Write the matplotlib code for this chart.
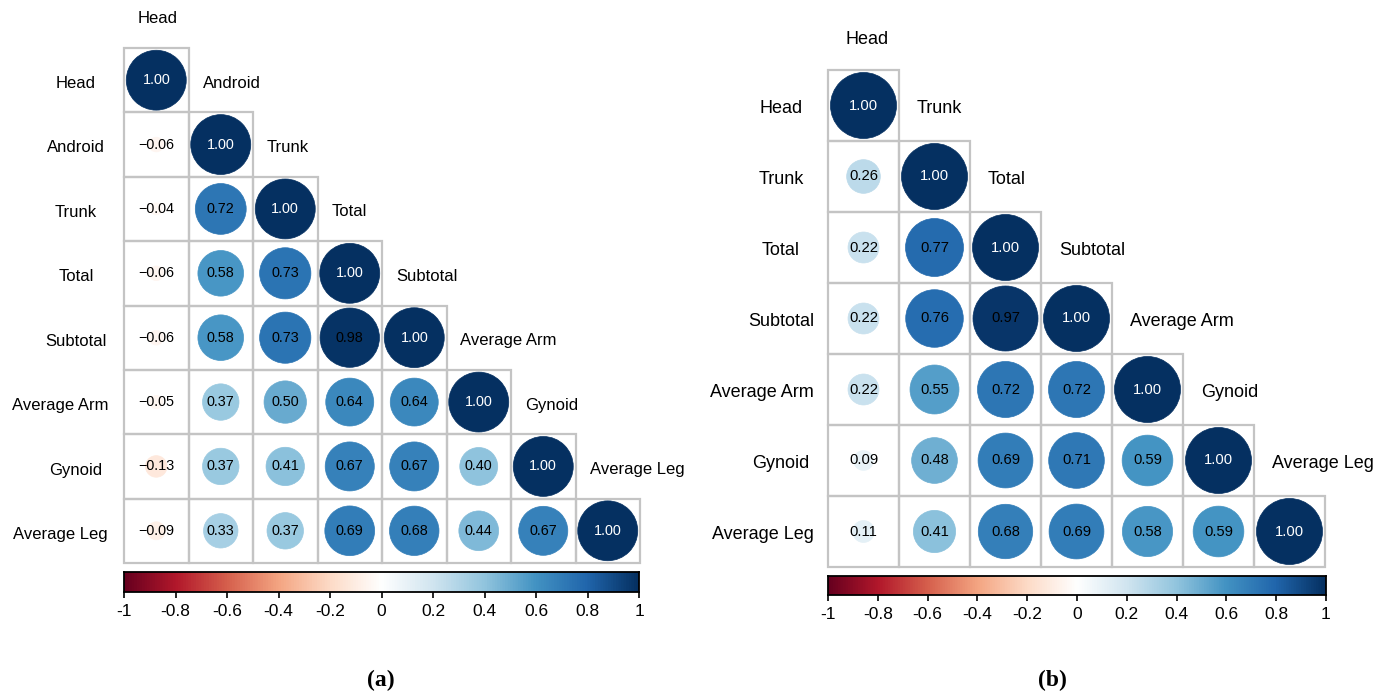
import numpy as np
import matplotlib
matplotlib.use("Agg")
import matplotlib.pyplot as plt
from matplotlib.colors import LinearSegmentedColormap
from matplotlib.patches import Circle, Rectangle

# ---- data -------------------------------------------------------------
labels_a = ["Head", "Android", "Trunk", "Total", "Subtotal",
            "Average Arm", "Gynoid", "Average Leg"]
lower_a = [
    [],
    [-0.06],
    [-0.04, 0.72],
    [-0.06, 0.58, 0.73],
    [-0.06, 0.58, 0.73, 0.98],
    [-0.05, 0.37, 0.50, 0.64, 0.64],
    [-0.13, 0.37, 0.41, 0.67, 0.67, 0.40],
    [-0.09, 0.33, 0.37, 0.69, 0.68, 0.44, 0.67],
]

labels_b = ["Head", "Trunk", "Total", "Subtotal",
            "Average Arm", "Gynoid", "Average Leg"]
lower_b = [
    [],
    [0.26],
    [0.22, 0.77],
    [0.22, 0.76, 0.97],
    [0.22, 0.55, 0.72, 0.72],
    [0.09, 0.48, 0.69, 0.71, 0.59],
    [0.11, 0.41, 0.68, 0.69, 0.58, 0.59],
]

cbar_ticks = [-1, -0.8, -0.6, -0.4, -0.2, 0, 0.2, 0.4, 0.6, 0.8, 1]
cbar_ticklabels = ["-1", "-0.8", "-0.6", "-0.4", "-0.2", "0",
                   "0.2", "0.4", "0.6", "0.8", "1"]

# ---- style ------------------------------------------------------------
W, H = 1385, 695
DPI = 100
plt.rcParams["font.family"] = ["Liberation Sans", "DejaVu Sans"]

rdbu = LinearSegmentedColormap.from_list(
    "corr_rdbu",
    ["#67001F", "#B2182B", "#D6604D", "#F4A582", "#FDDBC7", "#FFFFFF",
     "#D1E5F0", "#92C5DE", "#4393C3", "#2166AC", "#053061"], N=200)
GRID = "#C4C4C4"

fig = plt.figure(figsize=(W / DPI, H / DPI), dpi=DPI)


def px_axes(x0, y0, x1, y1):
    return fig.add_axes([x0 / W, 1 - y1 / H, (x1 - x0) / W, (y1 - y0) / H])


def full_matrix(lower):
    n = len(lower)
    m = np.eye(n)
    for i, row in enumerate(lower):
        for j, v in enumerate(row):
            m[i, j] = v
    return m


def corr_panel(box, labels, lower, lab_size, num_size, row_cx, row_max_right,
               diag_off, head_y, lab_dy=3):
    x0, y0, x1, y1 = box
    n = len(labels)
    cell = (x1 - x0) / n
    mat = full_matrix(lower)
    ax = px_axes(*box)
    ax.set_xlim(0, n)
    ax.set_ylim(n, 0)
    ax.set_axis_off()

    for i in range(n):
        for j in range(i + 1):
            ax.add_patch(Rectangle((j, i), 1, 1, fill=False, ec=GRID,
                                   lw=1.6, zorder=1, clip_on=False))
            v = mat[i, j]
            col = rdbu((v + 1) / 2)
            r = 0.465 * np.sqrt(abs(v))
            ax.add_patch(Circle((j + 0.5, i + 0.5), r, fc=col, ec=col,
                                lw=0.5, zorder=2))
            tc = "white" if v >= 0.995 else "black"
            ax.text(j + 0.5, i + 0.5, f"{v:.2f}".replace("-", "\u2212"),
                    ha="center", va="center", fontsize=num_size, color=tc,
                    zorder=3)

    # column labels: first above the grid, the rest beside the diagonal
    dy = lab_dy / cell
    ax.text(diag_off / cell, (head_y - y0) / cell, labels[0], ha="left",
            va="center", fontsize=lab_size, clip_on=False)
    for k in range(1, n):
        ax.text(k + diag_off / cell, k - 0.5 + dy, labels[k], ha="left",
                va="center", fontsize=lab_size, clip_on=False)

    # row labels
    fig.canvas.draw()
    rend = fig.canvas.get_renderer()
    for k in range(n):
        t = fig.text(row_cx / W, 1 - (y0 + (k + 0.5) * cell + lab_dy) / H,
                     labels[k], ha="center", va="center", fontsize=lab_size)
        w = t.get_window_extent(rend).width
        cx = min(row_cx, row_max_right - w / 2)
        t.set_x(cx / W)
    return ax


def colorbar(box, tick_size, label_top):
    x0, y0, x1, y1 = box
    cax = px_axes(*box)
    grad = np.linspace(-1, 1, 400)[None, :]
    cax.imshow(grad, cmap=rdbu, vmin=-1, vmax=1, aspect="auto",
               extent=[-1, 1, 0, 1])
    cax.set_xlim(-1, 1)
    cax.set_yticks([])
    cax.set_xticks(cbar_ticks)
    cax.set_xticklabels([])
    cax.tick_params(axis="x", direction="out", length=4, width=1.2,
                    color="black")
    for s in cax.spines.values():
        s.set_linewidth(1.3)
        s.set_color("black")
    for v, lab in zip(cbar_ticks, cbar_ticklabels):
        xp = x0 + (v + 1) / 2 * (x1 - x0)
        fig.text(xp / W, 1 - label_top / H, lab, ha="center", va="top",
                 fontsize=tick_size)


corr_panel((124, 48, 640, 563), labels_a, lower_a, lab_size=12.0,
           num_size=10.4, row_cx=76, row_max_right=108, diag_off=14,
           head_y=18)
colorbar((124, 572, 639, 592), tick_size=12.5, label_top=604)

corr_panel((828, 70, 1325, 567), labels_b, lower_b, lab_size=13.0,
           num_size=10.6, row_cx=781, row_max_right=814, diag_off=18,
           head_y=40)
colorbar((828, 576, 1326, 595), tick_size=12.5, label_top=607)

fig.text(381 / W, 1 - 680 / H, "(a)", ha="center", va="center",
         fontsize=17, fontweight="bold", family="Liberation Serif")
fig.text(1052 / W, 1 - 680 / H, "(b)", ha="center", va="center",
         fontsize=17, fontweight="bold", family="Liberation Serif")

fig.savefig("out.png", dpi=DPI, facecolor="white")
